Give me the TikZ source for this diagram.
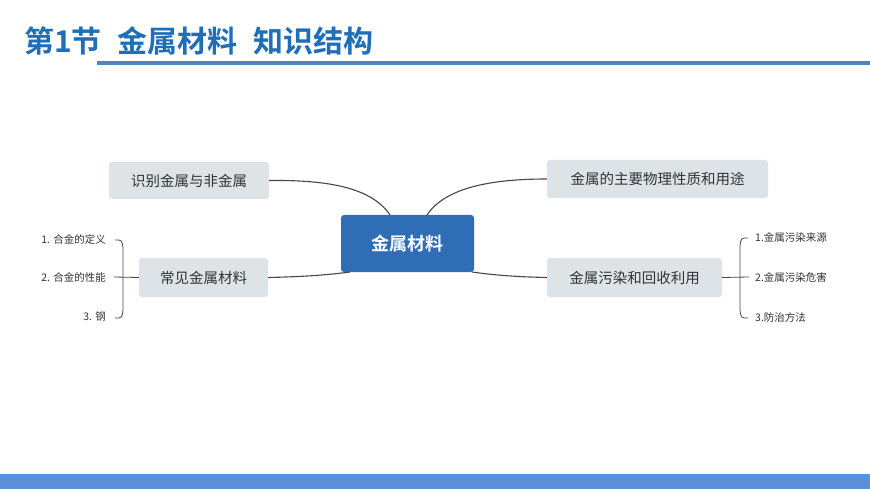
\documentclass[tikz,border=0pt]{standalone}
\usepackage{fontspec}
\setmainfont{Noto Sans CJK SC}
\newfontfamily\cjkb{Noto Sans CJK SC Bold}
\definecolor{hblue}{HTML}{1F6FB8}
\definecolor{lblue}{HTML}{4A86C0}
\definecolor{bbar}{HTML}{5B8FD8}
\definecolor{cfill}{HTML}{2F6DB5}
\definecolor{gfill}{HTML}{DDE3E6}
\definecolor{txt}{HTML}{333333}
\tikzset{
 topic/.style={fill=gfill,rounded corners=3pt,text=txt,font=\fontsize{14.5}{16}\selectfont},
 leaf/.style={text=txt,font=\fontsize{10.5}{12}\selectfont,inner sep=1pt},
 link/.style={draw=txt!90,line width=1.1pt},
 brc/.style={draw=txt!90,line width=0.8pt}
}
\begin{document}
\begin{tikzpicture}[x=1pt,y=-1pt]
\useasboundingbox (0,0) rectangle (870,489);
\fill[white] (0,0) rectangle (870,489);
\node[anchor=west,text=hblue,font=\cjkb\fontsize{30}{32}\selectfont,inner sep=0] (title) at (24,41) {第1节\hspace{16pt}金属材料\hspace{16pt}知识结构};
\fill[lblue] (97,61.5) rectangle (870,65);
\fill[bbar] (0,474) rectangle (870,489);
\node[fill=cfill,rounded corners=3pt,text=white,font=\cjkb\fontsize{18}{20}\selectfont,minimum width=133pt,minimum height=57pt] (c) at (407.5,243.5) {金属材料};
\node[topic,minimum width=160pt,minimum height=37pt] (a) at (189,180.5) {识别金属与非金属};
\node[topic,minimum width=221pt,minimum height=38pt] (b) at (657.5,179) {金属的主要物理性质和用途};
\node[topic,minimum width=129pt,minimum height=39pt] (l) at (203.5,277.5) {常见金属材料};
\node[topic,minimum width=175pt,minimum height=39pt] (r) at (634.5,277.5) {金属污染和回收利用};
\coordinate (c1) at (390,215);
\coordinate (c2) at (427,215);
\coordinate (c3) at (350,272);
\coordinate (c4) at (472,272);
\draw[link] (c1) .. controls (370,185) and (320,180) .. (a.east);
\draw[link] (c2) .. controls (445,188) and (490,179) .. (b.west);
\draw[link] (c3) .. controls (320,276) and (290,277) .. (l.east);
\draw[link] (c4) .. controls (500,276) and (525,277) .. (r.west);
% left brace
\node[leaf,anchor=east] (l1) at (107,239) {1. 合金的定义};
\node[leaf,anchor=east] (l2) at (107,277) {2. 合金的性能};
\node[leaf,anchor=east] (l3) at (107,317) {3. 钢};
\draw[brc] (115,240) .. controls (122,240) .. (123,248) -- (123,310) .. controls (122,318) .. (115,318);
\draw[brc] (l2.east) ++(7,0) -- (l.west);
% right brace
\node[leaf,anchor=west] (r1) at (754,237) {1.金属污染来源};
\node[leaf,anchor=west] (r2) at (754,277) {2.金属污染危害};
\node[leaf,anchor=west] (r3) at (754,317) {3.防治方法};
\draw[brc] (748,238) .. controls (741,238) .. (740,246) -- (740,310) .. controls (741,318) .. (748,318);
\draw[brc] (r.east) -- ([xshift=-5pt]r2.west);
\end{tikzpicture}
\end{document}
